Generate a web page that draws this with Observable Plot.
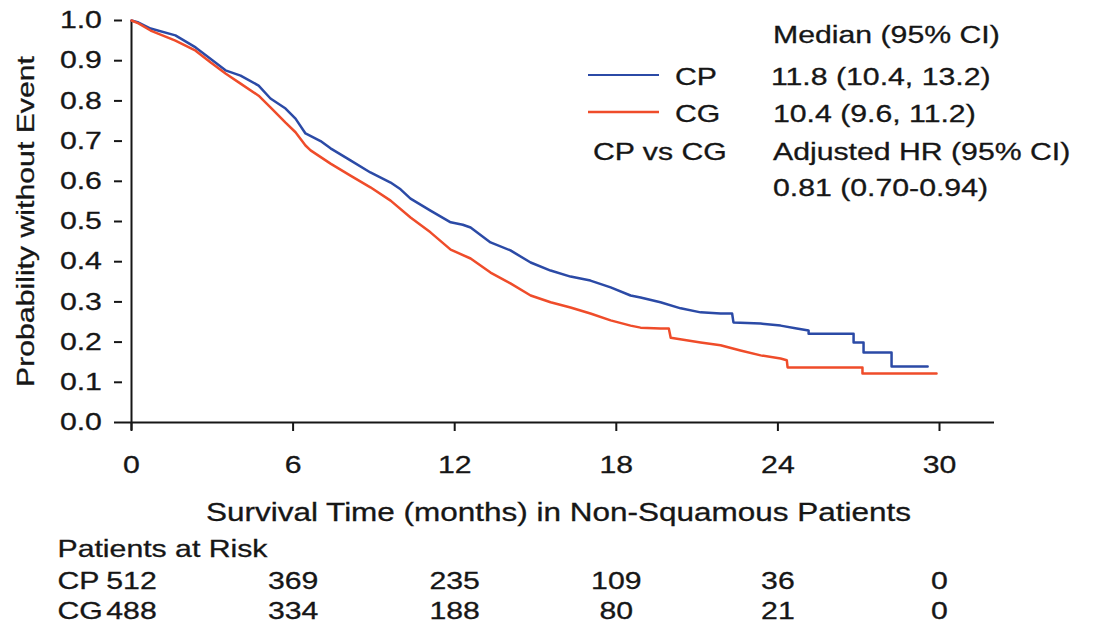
<!DOCTYPE html>
<html>
<head>
<meta charset="utf-8">
<script src="https://cdn.jsdelivr.net/npm/d3@7"></script>
<script src="https://cdn.jsdelivr.net/npm/@observablehq/plot@0.6"></script>
<style>
  body { margin: 0; background: #ffffff; }
  #chart { width: 1101px; height: 624px; }
  #chart svg text { stroke: #161616; stroke-width: 0.3px; }
</style>
</head>
<body>
<div id="chart"></div>
<script>
// ---- data ----
const seriesNames = ["CP", "CG"];
const seriesColors = ["#2b4aa6", "#ef4c2a"];

const cpTime = [0, 0.26, 0.71, 1.63, 2.38, 2.93, 3.49, 4.05, 4.72, 5.16, 5.72, 6.09, 6.46, 7.02, 7.39, 8.13, 8.87, 9.62, 9.99, 10.36, 11.10, 11.85, 12.30, 12.59, 13.33, 14.07, 14.82, 15.56, 16.30, 17.04, 17.79, 18.53, 18.90, 19.64, 20.39, 21.13, 21.87, 22.30, 22.35, 23.36, 24.10, 24.70, 25.14, 25.14, 26.81, 26.81, 27.18, 27.18, 28.22, 28.22, 29.56];
const cpSurv = [1.0, 0.995, 0.980, 0.963, 0.933, 0.905, 0.876, 0.863, 0.838, 0.806, 0.781, 0.756, 0.719, 0.700, 0.682, 0.652, 0.622, 0.597, 0.580, 0.557, 0.527, 0.498, 0.492, 0.485, 0.448, 0.428, 0.398, 0.378, 0.363, 0.353, 0.336, 0.316, 0.311, 0.299, 0.284, 0.274, 0.271, 0.271, 0.249, 0.246, 0.241, 0.234, 0.229, 0.221, 0.221, 0.199, 0.199, 0.174, 0.174, 0.139, 0.139];

const cgTime = [0, 0.26, 0.71, 1.63, 2.38, 2.93, 3.49, 4.05, 4.72, 5.16, 5.72, 6.09, 6.46, 6.65, 7.39, 8.13, 8.87, 9.62, 10.36, 11.10, 11.85, 12.59, 13.33, 14.07, 14.82, 15.56, 16.30, 17.04, 17.79, 18.53, 18.90, 19.64, 19.95, 20.02, 21.13, 21.87, 22.61, 23.36, 24.10, 24.33, 24.36, 27.14, 27.14, 29.89];
const cgSurv = [1.0, 0.993, 0.975, 0.950, 0.925, 0.896, 0.868, 0.843, 0.813, 0.784, 0.746, 0.722, 0.689, 0.677, 0.644, 0.614, 0.585, 0.552, 0.510, 0.473, 0.430, 0.408, 0.373, 0.346, 0.316, 0.299, 0.286, 0.271, 0.254, 0.241, 0.236, 0.234, 0.234, 0.211, 0.199, 0.192, 0.179, 0.167, 0.159, 0.155, 0.137, 0.137, 0.122, 0.122];

const xTicks = [0, 6, 12, 18, 24, 30];
const yTicks = [0, 0.1, 0.2, 0.3, 0.4, 0.5, 0.6, 0.7, 0.8, 0.9, 1.0];

const riskTimes = [0, 6, 12, 18, 24, 30];
const riskCP = [512, 369, 235, 109, 36, 0];
const riskCG = [488, 334, 188, 80, 21, 0];

const medianHeader = "Median (95% CI)";
const medianText = ["11.8 (10.4, 13.2)", "10.4 (9.6, 11.2)"];
const hrLabel = "CP vs CG";
const hrHeader = "Adjusted HR (95% CI)";
const hrText = "0.81 (0.70-0.94)";

const xTitle = "Survival Time (months) in Non-Squamous Patients";
const yTitle = "Probability without Event";
const riskTitle = "Patients at Risk";

// ---- build tables ----
const curves = [
  ...cpTime.map((t, i) => ({t, s: cpSurv[i], g: "CP"})),
  ...cgTime.map((t, i) => ({t, s: cgSurv[i], g: "CG"}))
];
const riskRowsCP = riskTimes.map((t, i) => ({t, n: riskCP[i]}));
const riskRowsCG = riskTimes.map((t, i) => ({t, n: riskCG[i]}));

const FONT = "'Liberation Sans', Arial, Helvetica, sans-serif";
const INK = "#161616";
const FS = 24;
const STRETCH = 1.26;

const chart = Plot.plot({
  width: 1101,
  height: 624,
  marginTop: 20,
  marginBottom: 202,
  marginLeft: 122,
  marginRight: 107,
  style: {fontFamily: FONT, fontSize: FS + "px", color: INK, background: "#ffffff"},
  x: {domain: [0, 30], range: [131, 939]},
  y: {domain: [0, 1], range: [422, 20]},
  color: {domain: seriesNames, range: seriesColors},
  marks: [
    Plot.axisY({ticks: yTicks, tickFormat: d3.format(".1f"), tickSize: 8, tickPadding: 12.6, label: null, strokeWidth: 2, fontSize: FS}),
    Plot.axisX({ticks: xTicks, tickSize: 9, tickPadding: 24, label: null, strokeWidth: 2, fontSize: FS}),
    Plot.ruleY([0], {strokeWidth: 2, stroke: INK}),
    Plot.ruleX([0], {y1: 1, y2: -0.02, strokeWidth: 2, stroke: INK}),
    Plot.line(curves, {x: "t", y: "s", z: "g", stroke: "g", strokeWidth: 2.5}),
    Plot.text([yTitle], {frameAnchor: "left", dx: -89, rotate: -90, textAnchor: "middle", lineAnchor: "bottom", fontSize: FS, fill: INK}),
    Plot.text([xTitle], {frameAnchor: "bottom", dy: 98, lineAnchor: "bottom", fontSize: 25, fill: INK}),
    Plot.text([riskTitle], {frameAnchor: "bottom-left", dx: -65, dy: 134, textAnchor: "start", lineAnchor: "bottom", fontSize: FS, fill: INK}),
    Plot.text([seriesNames[0]], {frameAnchor: "bottom-left", dx: -65, dy: 166, textAnchor: "start", lineAnchor: "bottom", fontSize: FS, fill: INK}),
    Plot.text([seriesNames[1]], {frameAnchor: "bottom-left", dx: -65, dy: 196, textAnchor: "start", lineAnchor: "bottom", fontSize: FS, fill: INK}),
    Plot.text(riskRowsCP, {x: "t", text: "n", frameAnchor: "bottom", dy: 166, lineAnchor: "bottom", fontSize: FS, fill: INK}),
    Plot.text(riskRowsCG, {x: "t", text: "n", frameAnchor: "bottom", dy: 196, lineAnchor: "bottom", fontSize: FS, fill: INK})
  ]
});

// ---- legend block (annotation inside the plot area) ----
const svg = d3.select(chart);
const lg = svg.append("g")
  .attr("font-family", FONT).attr("font-size", FS).attr("fill", INK)
  .attr("text-anchor", "start");
const addText = (x, y, s) => lg.append("text").attr("text-anchor", "start").attr("transform", `translate(${x},${y})`).text(s);
addText(773, 43, medianHeader);
lg.append("line").attr("x1", 588).attr("x2", 659).attr("y1", 75).attr("y2", 75).attr("stroke", seriesColors[0]).attr("stroke-width", 2.2);
addText(675, 85, seriesNames[0]);
addText(771, 85, medianText[0]);
lg.append("line").attr("x1", 588).attr("x2", 659).attr("y1", 112).attr("y2", 112).attr("stroke", seriesColors[1]).attr("stroke-width", 2.4);
addText(675, 122, seriesNames[1]);
addText(773, 122, medianText[1]);
addText(593, 160, hrLabel);
addText(773, 160, hrHeader);
addText(773, 196, hrText);

// widen glyphs horizontally (reference type is wider than Arial)
svg.selectAll("text").each(function () {
  let tr = this.getAttribute("transform");
  if (!tr) {
    const x = +(this.getAttribute("x") || 0), y = +(this.getAttribute("y") || 0);
    this.removeAttribute("x"); this.removeAttribute("y");
    tr = `translate(${x},${y})`;
  }
  this.setAttribute("transform", tr + ` scale(${STRETCH},1)`);
});

document.getElementById("chart").appendChild(chart);
</script>
</body>
</html>
